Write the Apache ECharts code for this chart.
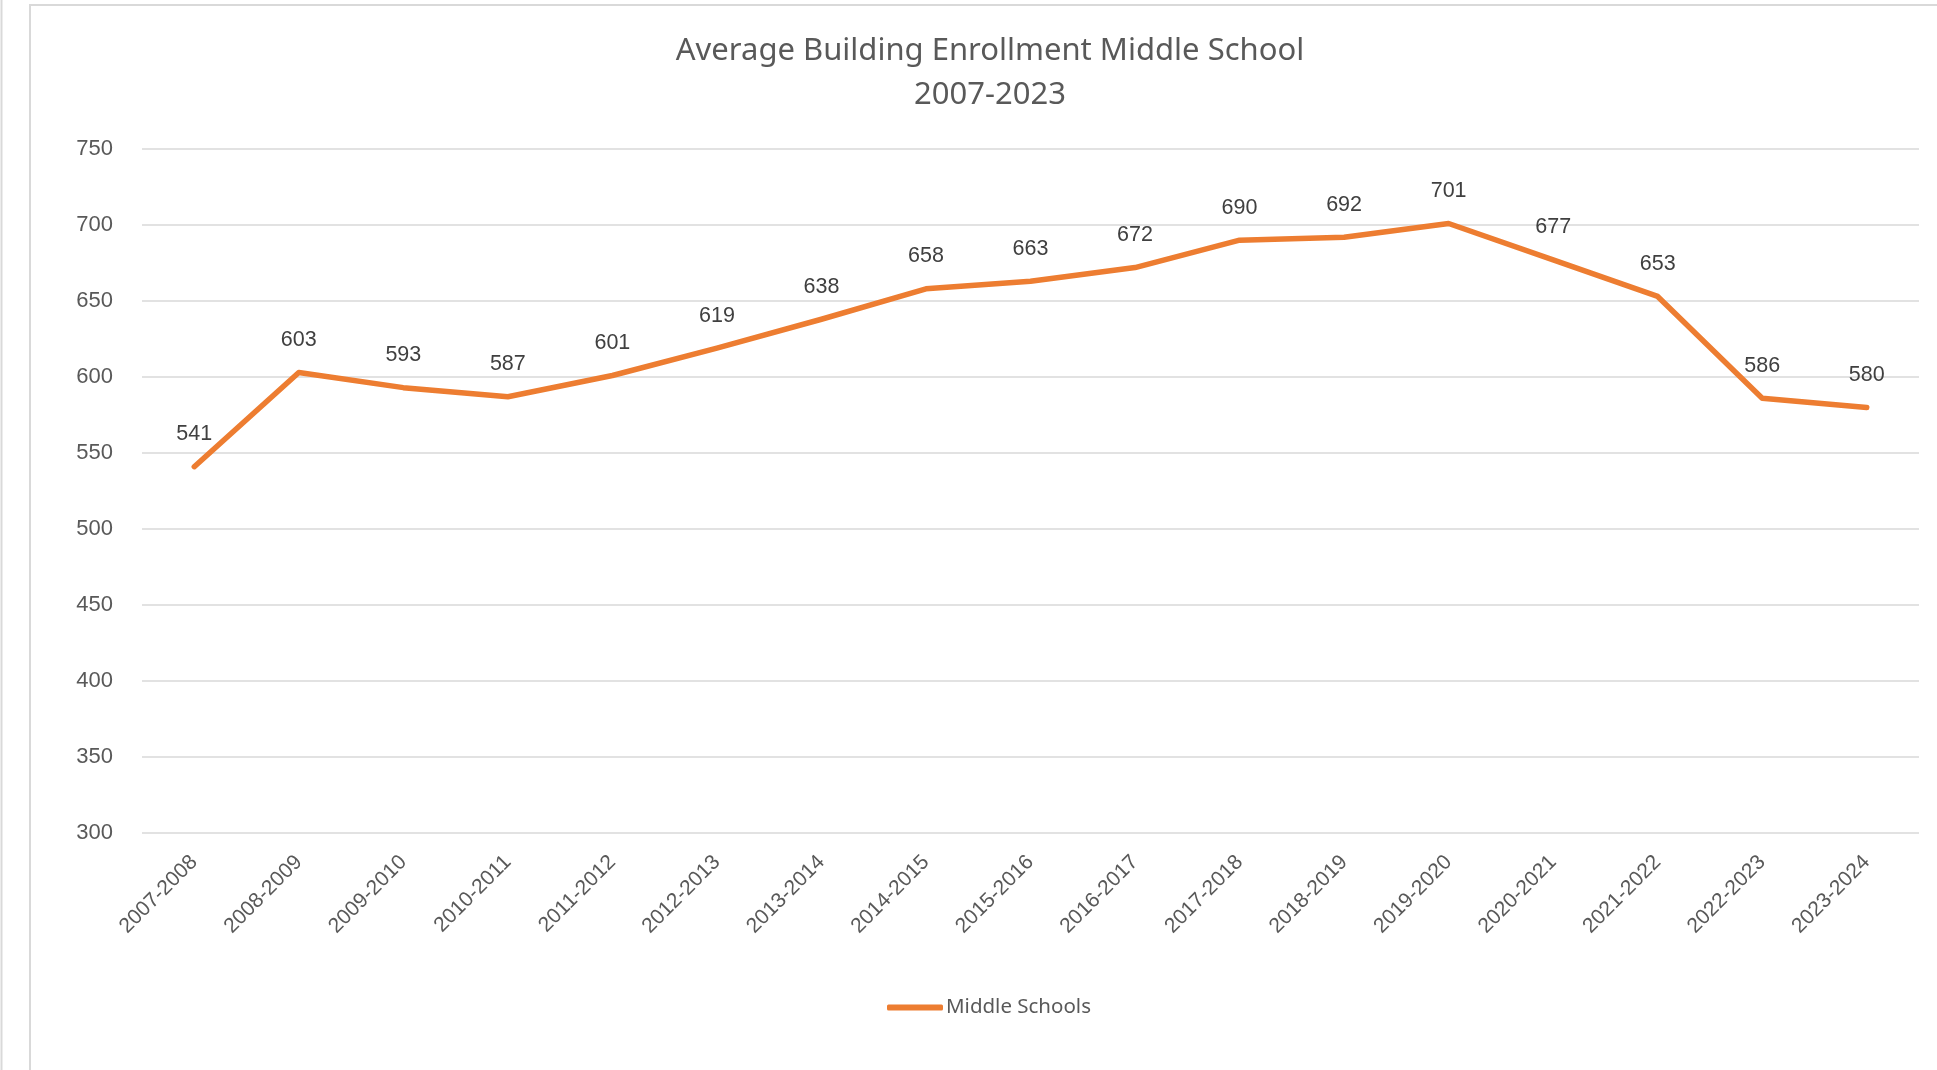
<!DOCTYPE html>
<html>
<head>
<meta charset="utf-8">
<script src="https://cdn.jsdelivr.net/npm/echarts@6/dist/echarts.min.js"></script>
<style>
html,body{margin:0;padding:0;background:#fff;}
#chart{width:1937px;height:1070px;}
</style>
</head>
<body>
<div id="chart"></div>
<script>
const categories = ['2007-2008','2008-2009','2009-2010','2010-2011','2011-2012','2012-2013','2013-2014','2014-2015','2015-2016','2016-2017','2017-2018','2018-2019','2019-2020','2020-2021','2021-2022','2022-2023','2023-2024'];
const middleSchools = [541,603,593,587,601,619,638,658,663,672,690,692,701,677,653,586,580];
const titleLines = ['Average Building Enrollment Middle School','2007-2023'];
const seriesName = 'Middle Schools';
const yMin = 300, yMax = 750, yStep = 50;

const chart = echarts.init(document.getElementById('chart'), null, {renderer:'canvas'});
chart.setOption({
  backgroundColor:'#ffffff',
  animation:false,
  graphic:[
    {type:'line', shape:{x1:1.5,y1:0,x2:1.5,y2:1070}, style:{stroke:'#d9d9d9',lineWidth:2}},
    {type:'polyline', shape:{points:[[30,1070],[30,5],[1937,5]]}, style:{stroke:'#d9d9d9',lineWidth:2,fill:null}}
  ],
  title:{
    text:titleLines.join('\n'),
    left:985, top:24, textAlign:'center',
    textStyle:{fontFamily:'Noto Sans',fontSize:31,fontWeight:'normal',color:'#595959',lineHeight:44}
  },
  grid:{left:142,right:18,top:149,bottom:237,containLabel:false},
  legend:{
    data:[{name:seriesName,icon:'roundRect'}],
    left:882, top:992,
    itemWidth:56, itemHeight:6, itemGap:4,
    textStyle:{fontFamily:'Noto Sans',fontSize:20.5,color:'#595959',padding:[0,0,0,-2]}
  },
  xAxis:{
    type:'category', data:categories, boundaryGap:true,
    axisLine:{show:false}, axisTick:{show:false},
    axisLabel:{rotate:45, margin:26, interval:0, fontFamily:'Liberation Sans', fontSize:21, color:'#595959'}
  },
  yAxis:{
    type:'value', min:yMin, max:yMax, interval:yStep,
    axisLine:{show:false}, axisTick:{show:false},
    axisLabel:{margin:29, fontFamily:'Liberation Sans', fontSize:22, color:'#595959'},
    splitLine:{lineStyle:{color:'#d9d9d9',width:1.5}}
  },
  series:[{
    name:seriesName, type:'line', data:middleSchools,
    symbol:'circle', symbolSize:1, showSymbol:true, smooth:false,
    lineStyle:{color:'#ED7D31',width:5.5,cap:'round',join:'round'},
    itemStyle:{color:'#ED7D31'},
    label:{show:true, position:'top', distance:21, fontFamily:'Liberation Sans', fontSize:21.5, color:'#404040'}
  }]
});
</script>
</body>
</html>
